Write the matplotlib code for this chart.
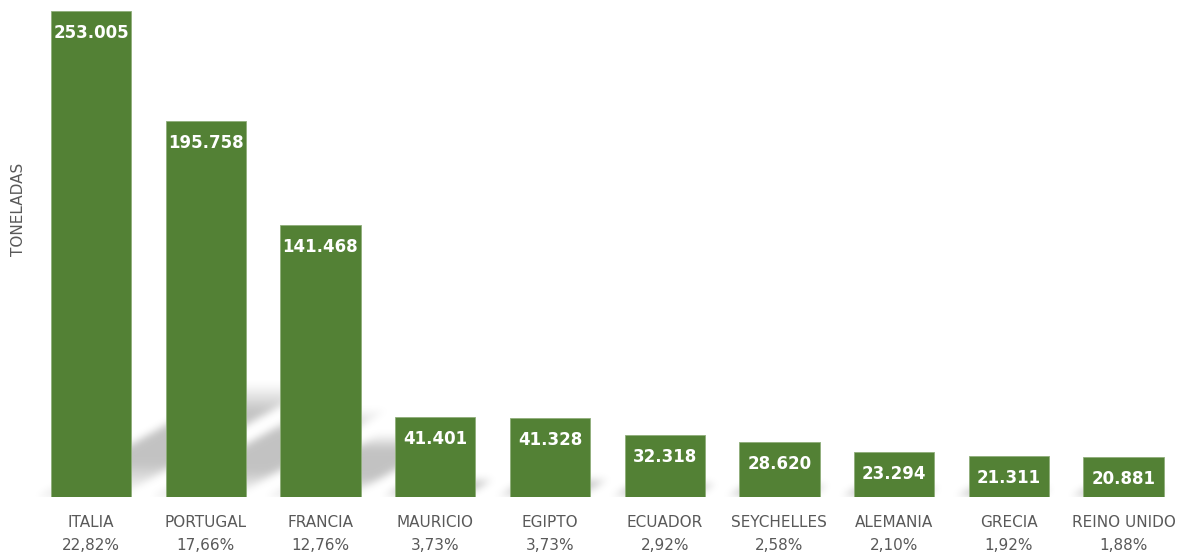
import numpy as np
import matplotlib
matplotlib.use('Agg')
import matplotlib.pyplot as plt

countries = ['ITALIA', 'PORTUGAL', 'FRANCIA', 'MAURICIO', 'EGIPTO',
             'ECUADOR', 'SEYCHELLES', 'ALEMANIA', 'GRECIA', 'REINO UNIDO']
toneladas = [253005, 195758, 141468, 41401, 41328,
             32318, 28620, 23294, 21311, 20881]
porcentajes = ['22,82%', '17,66%', '12,76%', '3,73%', '3,73%',
               '2,92%', '2,58%', '2,10%', '1,92%', '1,88%']

GREEN = '#538135'
GREY_TXT = '#595959'

W, H = 1184, 558
fig = plt.figure(figsize=(W / 100, H / 100), dpi=100)
ax_left, ax_right = 33.6 / W, 1181 / W
ax_bottom, ax_top = (H - 497) / H, (H - 11) / H
ax = fig.add_axes([ax_left, ax_bottom, ax_right - ax_left, ax_top - ax_bottom])

n = len(countries)
x = np.arange(n)
ymax = max(toneladas)
ax.set_xlim(-0.5, n - 0.5)
ax.set_ylim(0, ymax)

# pixel scale of the axes
aw = int(round((ax_right - ax_left) * W))
ah = int(round((ax_top - ax_bottom) * H))
px_x = aw / n
px_y = ah / ymax
bar_w = 0.70


def blur(img, sigma):
    r = int(3 * sigma)
    k = np.exp(-0.5 * (np.arange(-r, r + 1) / sigma) ** 2)
    k /= k.sum()
    out = np.apply_along_axis(lambda m: np.convolve(m, k, mode='same'), 1, img)
    out = np.apply_along_axis(lambda m: np.convolve(m, k, mode='same'), 0, out)
    return out


# perspective shadows falling up-right from each bar base (pixel space)
alpha = np.zeros((ah, aw))
uu, vv = np.meshgrid(np.arange(aw) + 0.5, np.arange(ah) + 0.5)  # vv: height above base
for xi, v in zip(x, toneladas):
    h_px = v * px_y
    dy_px = 0.235 * h_px
    dx_px = dy_px / 0.56
    left = (xi + 0.5 - bar_w / 2) * px_x - 14
    right = (xi + 0.5 + bar_w / 2) * px_x - 14
    t = vv / dy_px
    off = t * dx_px
    inside = (t <= 1) & (uu >= left + off) & (uu <= right + off)
    prof = np.clip(t / 0.3, 0.35, 1) * np.clip((1 - t) / 0.25, 0, 1)
    a = np.where(inside, 0.24 * prof, 0)
    alpha = np.maximum(alpha, a)
alpha = blur(alpha, 4)
rgba = np.zeros((ah, aw, 4))
rgba[..., 3] = alpha
ax.imshow(rgba[::-1], extent=(-0.5, n - 0.5, 0, ymax), aspect='auto',
          zorder=1, interpolation='bilinear')

ax.bar(x, toneladas, width=bar_w, color=GREEN, edgecolor='#8fae7a',
       linewidth=0.6, zorder=3)

for xi, v in zip(x, toneladas):
    ax.annotate(f'{v:,}'.replace(',', '.'), (xi, v), xytext=(0, -22),
                textcoords='offset pixels', ha='center', va='center',
                color='white', fontsize=12, fontweight='bold', zorder=4)

ax.set_xticks(x)
ax.set_xticklabels([f'{c}\n{p}' for c, p in zip(countries, porcentajes)],
                   color=GREY_TXT, fontsize=11, linespacing=1.65)
ax.tick_params(axis='x', length=0, pad=13)
ax.set_yticks([])
for s in ax.spines.values():
    s.set_visible(False)

fig.text(19 / W, 1 - 209 / H, 'TONELADAS', rotation=90, ha='center',
         va='center', color=GREY_TXT, fontsize=11)

fig.savefig('out.png', dpi=100)
